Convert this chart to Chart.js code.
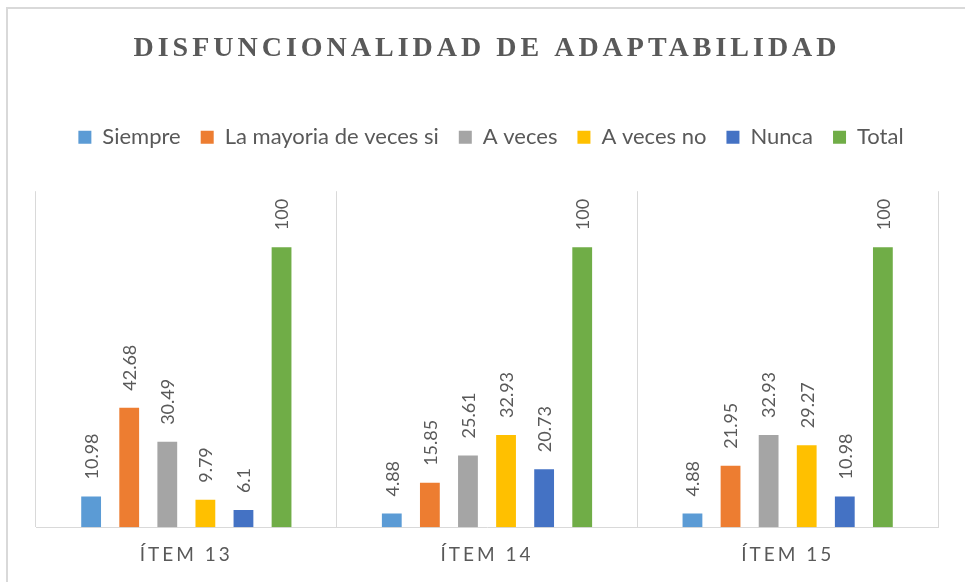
<!DOCTYPE html>
<html>
<head>
<meta charset="utf-8">
<script src="https://cdn.jsdelivr.net/npm/chart.js"></script>
<style>
	body { margin: 0; background: #fff; }
	#marco { position: relative; width: 965px; height: 582px; overflow: hidden; }
	#borde { position: absolute; left: 6px; top: 7px; width: 1000px; height: 620px; border: 2px solid #d9d9d9; box-sizing: border-box; }
	#mycanvas { position: absolute; left: 0; top: 0; }
</style>
</head>
<body>
<div id="marco">
	<div id="borde"></div>
	<canvas id="mycanvas" width="965" height="582"></canvas>
</div>
<script>
var items = ['ÍTEM 13', 'ÍTEM 14', 'ÍTEM 15'];

var siempre = [10.98, 4.88, 4.88];
var mayoriaSi = [42.68, 15.85, 21.95];
var aVeces = [30.49, 25.61, 32.93];
var aVecesNo = [9.79, 32.93, 29.27];
var nunca = [6.1, 20.73, 10.98];
var total = [100, 100, 100];

var gris = '#595959';

// espacio bajo la leyenda, titulo espaciado y etiquetas de valor
var ajustes = {
	id: 'ajustes',
	beforeInit: function(chart) {
		var fitLeyenda = chart.legend.fit;
		chart.legend.fit = function() {
			fitLeyenda.call(this);
			this.height += 33;
		};
		var drawLeyenda = chart.legend.draw;
		chart.legend.draw = function() {
			chart.ctx.save();
			chart.ctx.translate(4, 0);
			drawLeyenda.apply(this, arguments);
			chart.ctx.restore();
		};
		var drawTitulo = chart.titleBlock.draw;
		chart.titleBlock.draw = function() {
			chart.ctx.save();
			chart.ctx.letterSpacing = '4px';
			drawTitulo.apply(this, arguments);
			chart.ctx.restore();
		};
	},
	beforeDraw: function(chart) {
		var x = chart.scales.x;
		if (!x._espaciado) {
			var drawLabels = x.drawLabels;
			x.drawLabels = function() {
				chart.ctx.save();
				chart.ctx.letterSpacing = '3px';
				drawLabels.apply(this, arguments);
				chart.ctx.restore();
			};
			x._espaciado = true;
		}
	},
	afterDatasetsDraw: function(chart) {
		var ctx = chart.ctx;
		chart.data.datasets.forEach(function(ds, i) {
			chart.getDatasetMeta(i).data.forEach(function(bar, j) {
				ctx.save();
				ctx.translate(bar.x + 1, bar.y - 17);
				ctx.rotate(-Math.PI / 2);
				ctx.font = '18px Lato';
				ctx.fillStyle = gris;
				ctx.textAlign = 'left';
				ctx.textBaseline = 'middle';
				ctx.fillText(String(ds.data[j]), 0, 0);
				ctx.restore();
			});
		});
	}
};

var chartdata = {
	labels: items,
	datasets: [
		{ label: 'Siempre', backgroundColor: '#5B9BD5', data: siempre },
		{ label: 'La mayoria de veces si', backgroundColor: '#ED7D31', data: mayoriaSi },
		{ label: 'A veces', backgroundColor: '#A5A5A5', data: aVeces },
		{ label: 'A veces no', backgroundColor: '#FFC000', data: aVecesNo },
		{ label: 'Nunca', backgroundColor: '#4472C4', data: nunca },
		{ label: 'Total', backgroundColor: '#70AD47', data: total }
	]
};

var ctx = document.getElementById('mycanvas');

var barGraph = new Chart(ctx, {
	type: 'bar',
	data: chartdata,
	plugins: [ajustes],
	options: {
		responsive: false,
		animation: false,
		datasets: {
			bar: { categoryPercentage: 0.76, barPercentage: 0.52, borderWidth: 0 }
		},
		layout: { padding: { left: 36, right: 27, top: 0, bottom: 0 } },
		plugins: {
			title: {
				display: true,
				text: 'DISFUNCIONALIDAD DE ADAPTABILIDAD',
				color: gris,
				font: { family: 'Liberation Serif', size: 28, weight: 'bold', lineHeight: 1.2 },
				padding: { top: 32, bottom: 40.6 }
			},
			legend: {
				position: 'top',
				labels: {
					color: gris,
					font: { family: 'Lato', size: 22 },
					boxWidth: 13,
					boxHeight: 13,
					padding: 20
				}
			},
			tooltip: { enabled: false }
		},
		scales: {
			x: {
				grid: { color: '#d9d9d9', drawTicks: false, offset: true },
				border: { color: '#d9d9d9' },
				ticks: { color: gris, font: { family: 'Lato', size: 19 }, padding: 16 }
			},
			y: { display: false, min: 0, max: 120 }
		}
	}
});
</script>
</body>
</html>
